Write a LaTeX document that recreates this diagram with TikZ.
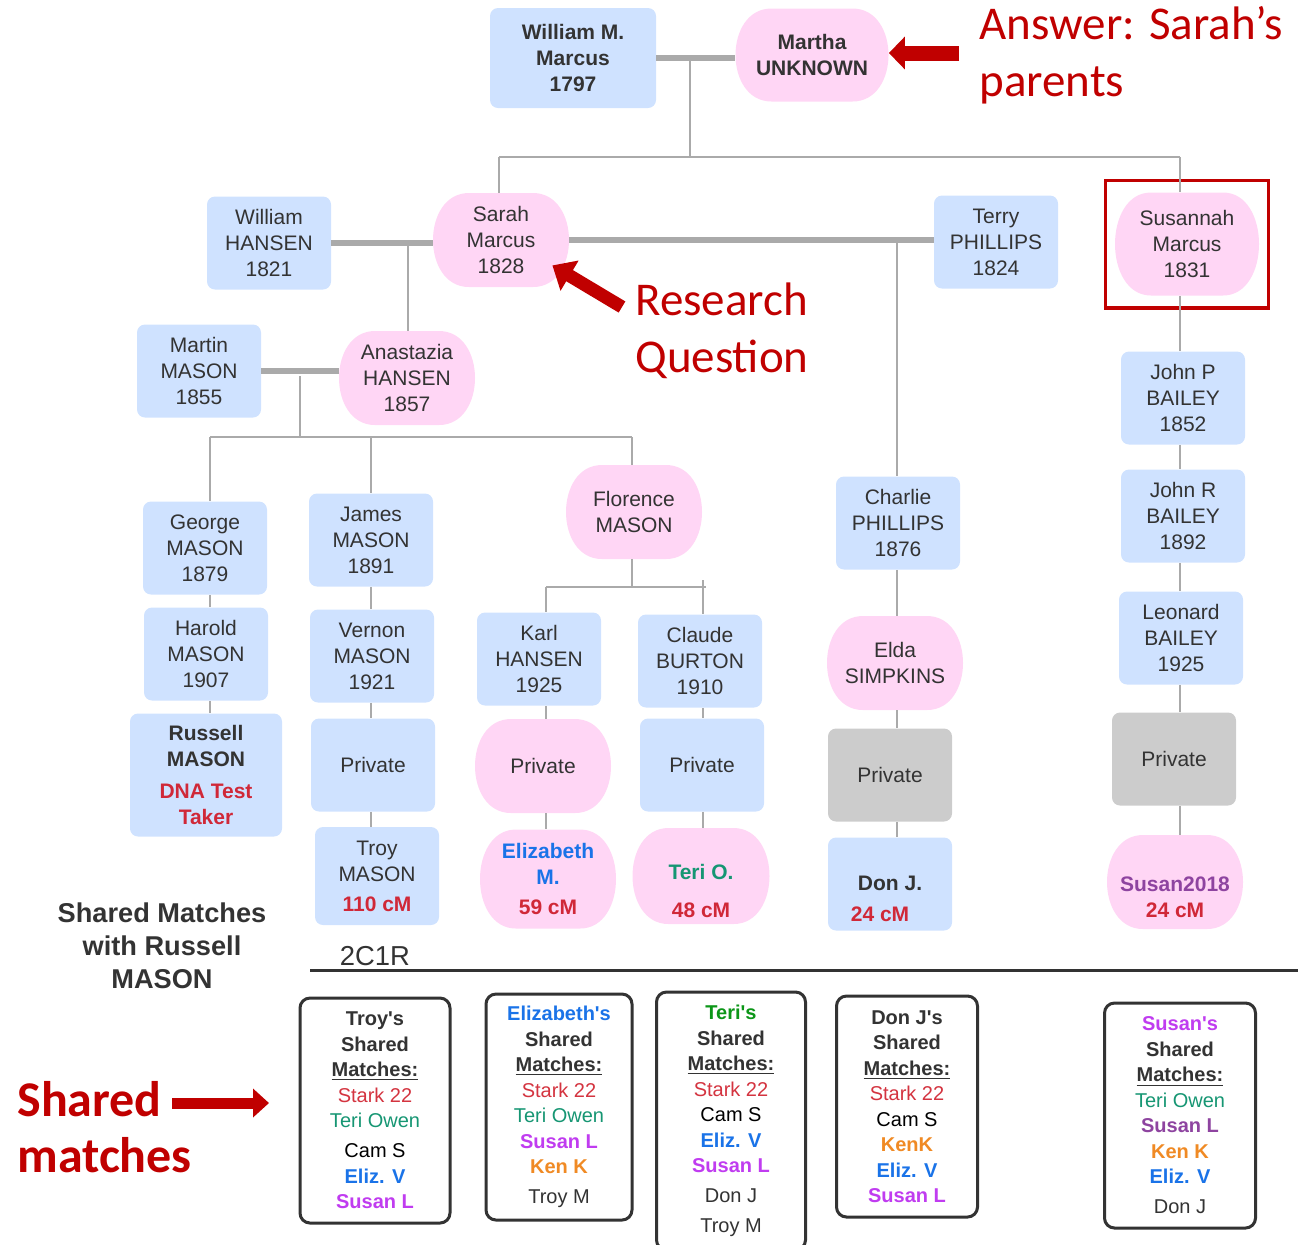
\documentclass[tikz,border=0pt]{standalone}
\usepackage{fontspec}
\setmainfont{Liberation Sans}
\newfontfamily\calibri{Carlito}
\usetikzlibrary{arrows.meta, fit}

\definecolor{boxblue}{RGB}{207,226,255}
\definecolor{boxpink}{RGB}{255,214,245}
\definecolor{boxgray}{RGB}{204,204,204}
\definecolor{linegray}{RGB}{170,170,170}
\definecolor{txt}{RGB}{51,51,51}
\definecolor{annred}{RGB}{192,0,0}
\definecolor{cmred}{RGB}{208,40,56}
\definecolor{starkred}{RGB}{212,52,64}
\definecolor{elizblue}{RGB}{26,115,232}
\definecolor{teriteal}{RGB}{22,150,115}
\definecolor{terigreen}{RGB}{12,150,24}
\definecolor{susanpurple}{RGB}{192,60,240}
\definecolor{susandark}{RGB}{142,68,160}
\definecolor{kenorange}{RGB}{240,138,36}

\newcommand\personfont{\fontsize{10.5}{13}\selectfont}
\newcommand\listfont{\fontsize{10}{12.75}\selectfont}

\tikzset{
  kin/.style={draw=linegray, line width=1.2pt},
  wed/.style={draw=linegray, line width=3pt},
  bluebox/.style={fill=boxblue, rounded corners=4pt, minimum width=62pt, minimum height=46.5pt,
    inner sep=0pt, align=center, text=txt, font=\personfont},
  graybox/.style={bluebox, fill=boxgray},
  pinkbox/.style={fill=white, minimum width=68pt, minimum height=47pt, inner sep=0pt,
    align=center, text=txt, font=\personfont,
    path picture={
      \fill[boxpink] ([xshift=18pt]path picture bounding box.north west)
        -- ([xshift=-18pt]path picture bounding box.north east)
        .. controls ([xshift=6pt]path picture bounding box.north east) and ([xshift=6pt]path picture bounding box.south east) .. ([xshift=-18pt]path picture bounding box.south east)
        -- ([xshift=18pt]path picture bounding box.south west)
        .. controls ([xshift=-6pt]path picture bounding box.south west) and ([xshift=-6pt]path picture bounding box.north west) .. cycle;
    }},
  matchbox/.style={draw=txt, line width=1.5pt, fill=white, rounded corners=5pt,
    inner sep=0pt, align=center, text=txt, font=\listfont},
  annot/.style={text=annred, inner sep=0pt, align=left, font={\calibri\fontsize{23.5}{28.5}\selectfont}},
  bigarrow/.style={draw=annred}
}

\begin{document}
\begin{tikzpicture}[x=0.5pt, y=-0.5pt]
\useasboundingbox (0,0) rectangle (1309,1244);

% Marcus parents
\node[bluebox, font={\personfont\bfseries}, minimum width=83pt, minimum height=50pt] (wmm) at (573,58) {William M.\\Marcus\\1797};
\node[pinkbox, font={\personfont\bfseries}, minimum width=76.5pt, minimum height=46.5pt] (martha) at (812,55) {Martha\\UNKNOWN};

% Sarah, her husband, her sister
\node[bluebox] (whansen) at (269,243) {William\\HANSEN\\1821};
\node[pinkbox] (sarah) at (501,240) {Sarah\\Marcus\\1828};
\node[bluebox] (terry) at (996,242) {Terry\\PHILLIPS\\1824};
\node[pinkbox, minimum width=72pt, minimum height=51.5pt] (susannah) at (1187,244) {Susannah\\Marcus\\1831};
\node[draw=annred, line width=1.6pt, fit=(susannah), inner xsep=4.5pt, inner ysep=6pt] (focus) {};

% next generation
\node[bluebox] (martin) at (199,371) {Martin\\MASON\\1855};
\node[pinkbox] (anastazia) at (407,378) {Anastazia\\HANSEN\\1857};
\node[bluebox] (charlie) at (898,523) {Charlie\\PHILLIPS\\1876};
\node[bluebox] (johnp) at (1183,398) {John P\\BAILEY\\1852};

\node[bluebox] (george) at (205,548) {George\\MASON\\1879};
\node[bluebox] (james) at (371,540) {James\\MASON\\1891};
\node[pinkbox] (florence) at (634,512) {Florence\\MASON};
\node[pinkbox] (elda) at (895,663) {Elda\\SIMPKINS};
\node[bluebox] (johnr) at (1183,516) {John R\\BAILEY\\1892};

\node[bluebox] (harold) at (206,654) {Harold\\MASON\\1907};
\node[bluebox] (vernon) at (372,656) {Vernon\\MASON\\1921};
\node[bluebox] (karl) at (539,659) {Karl\\HANSEN\\1925};
\node[bluebox] (claude) at (700,661) {Claude\\BURTON\\1910};
\node[bluebox] (leonard) at (1181,638) {Leonard\\BAILEY\\1925};

% living people
\node[bluebox, font={\personfont\bfseries}, minimum width=76pt, minimum height=61.5pt] (russell) at (206,775) {Russell\\MASON\\[3pt]\textcolor{cmred}{DNA Test}\\\textcolor{cmred}{Taker}};
\node[bluebox] (priva) at (373,765) {Private};
\node[pinkbox] (privb) at (543,766) {Private};
\node[bluebox] (privc) at (702,765) {Private};
\node[graybox] (privd) at (890,775) {Private};
\node[graybox] (privs) at (1174,759) {Private};

% DNA matches
\node[bluebox, minimum height=49pt] (troy) at (377,876) {Troy\\MASON\\[2pt]\textcolor{cmred}{\bfseries 110 cM}};
\node[pinkbox, font={\personfont\bfseries}, minimum height=49.5pt] (elizabeth) at (548,879) {\textcolor{elizblue}{Elizabeth}\\\textcolor{elizblue}{M.}\\[2pt]\textcolor{cmred}{59 cM}};
\node[pinkbox, font={\personfont\bfseries}, minimum width=68.5pt, minimum height=48pt] (teri) at (701,876) {\strut\\\textcolor{teriteal}{Teri O.}\\[6pt]\textcolor{cmred}{48 cM}};
\node[bluebox, font={\personfont\bfseries}] (don) at (890,884) {\strut\\Don J.\\[2.5pt]\textcolor{cmred}{24 cM}\rule{10pt}{0pt}};
\node[pinkbox, font={\personfont\bfseries}] (susan) at (1175,882) {\strut\\\textcolor{susandark}{Susan2018}\\\textcolor{cmred}{24 cM}};

% couples
\draw[wed] (wmm.east) -- (wmm.east -| martha.west);
\draw[wed] (whansen.east) -- (whansen.east -| sarah.west);
\draw[wed] (sarah.east) -- (sarah.east -| terry.west);
\draw[wed] (martin.east) -- (martin.east -| anastazia.west);

% children of William M. and Martha
\coordinate (m0) at (690,58);
\coordinate (bar0) at (690,157);
\coordinate (bar0l) at (499,157);
\coordinate (bar0r) at (1180,157);
\draw[kin] (m0) -- (bar0);
\draw[kin] (bar0l) -- (bar0r);
\draw[kin] (bar0l) -- (bar0l |- sarah.north);
\draw[kin] (bar0r) -- (bar0r |- susannah.north);

% children of Sarah
\coordinate (m1) at (408,242);
\draw[kin] (m1) -- (m1 |- anastazia.north);
\coordinate (m2) at (897,241);
\draw[kin] (m2) -- (m2 |- charlie.north);

% children of Anastazia
\coordinate (m3) at (300,376);
\coordinate (bar3) at (300,437);
\coordinate (bar3l) at (210,437);
\coordinate (bar3m) at (371,437);
\coordinate (bar3r) at (632,437);
\draw[kin] (m3) -- (bar3);
\draw[kin] (bar3l) -- (bar3r);
\draw[kin] (bar3l) -- (bar3l |- george.north);
\draw[kin] (bar3m) -- (bar3m |- james.north);
\draw[kin] (bar3r) -- (bar3r |- florence.north);

% children of Florence
\coordinate (bar4) at (632,587);
\coordinate (bar4l) at (546,587);
\coordinate (bar4r) at (706,587);
\coordinate (tick) at (703,580);
\draw[kin] (bar4 |- florence.south) -- (bar4);
\draw[kin] (bar4l) -- (bar4r);
\draw[kin] (bar4l) -- (bar4l |- karl.north);
\draw[kin] (tick) -- (tick |- claude.north);

% descent lines
\draw[kin] (george.south -| bar3l) -- (harold.north -| bar3l);
\draw[kin] (harold.south -| bar3l) -- (russell.north -| bar3l);
\draw[kin] (james.south -| bar3m) -- (vernon.north -| bar3m);
\draw[kin] (vernon.south -| bar3m) -- (priva.north -| bar3m);
\draw[kin] (priva.south -| bar3m) -- (troy.north -| bar3m);
\draw[kin] (karl.south -| bar4l) -- (privb.north -| bar4l);
\draw[kin] (privb.south -| bar4l) -- (elizabeth.north -| bar4l);
\draw[kin] (claude.south -| tick) -- (privc.north -| tick);
\draw[kin] (privc.south -| tick) -- (teri.north -| tick);
\draw[kin] (charlie.south -| m2) -- (elda.north -| m2);
\draw[kin] (elda.south -| m2) -- (privd.north -| m2);
\draw[kin] (privd.south -| m2) -- (don.north -| m2);
\draw[kin] (susannah.south -| bar0r) -- (johnp.north -| bar0r);
\draw[kin] (johnp.south -| bar0r) -- (johnr.north -| bar0r);
\draw[kin] (johnr.south -| bar0r) -- (leonard.north -| bar0r);
\draw[kin] (leonard.south -| bar0r) -- (privs.north -| bar0r);
\draw[kin] (privs.south -| bar0r) -- (susan.north -| bar0r);

% notes
\node[annot, anchor=north west] (answer) at (979,6) {Answer: Sarah’s\\parents};
\coordinate (anstail) at (959,53);
\draw[bigarrow, line width=7.5pt, -{Triangle[length=8pt, width=16pt]}] (anstail) -- (anstail -| martha.east);

\node[annot, anchor=north west] (question) at (635,282) {Research\\Question};
\coordinate (rqtail) at (622,307);
\coordinate (rqtip) at ([shift={(-17,-22)}]sarah.south east);
\draw[bigarrow, line width=6.5pt, -{Triangle[length=10pt, width=17pt]}] (rqtail) -- (rqtip);

\node[annot, font={\calibri\bfseries\fontsize{25}{28}\selectfont}, anchor=north west] (shared) at (17,1081) {Shared\\matches};
\coordinate (smtail) at (172,1103);
\coordinate (smtip) at (269,1103);
\draw[bigarrow, line width=5.5pt, -{Triangle[length=8pt, width=14pt]}] (smtail) -- (smtip);

% shared matches
\node[font={\fontsize{13.6}{16.5}\selectfont\bfseries}, text=txt, align=center, inner sep=0pt] (title) at (162,946) {Shared Matches\\with Russell\\MASON};
\node[font={\fontsize{13.7}{16}\selectfont}, text=txt, inner sep=0pt] (rel) at (375,956) {2C1R};
\coordinate (divl) at (310,970);
\coordinate (divr) at (1298,970);
\draw[draw=txt, line width=1.5pt] (divl) -- (divr);

\node[matchbox, minimum width=75pt, minimum height=112.5pt] (mtroy) at (375,1110.5)
  {\textbf{Troy\textquotesingle s}\\\textbf{Shared}\\\textbf{\underline{Matches:}}\\
   \textcolor{starkred}{Stark 22}\\\textcolor{teriteal}{Teri Owen}\\[2.25pt]
   \textcolor{black}{Cam S}\\\textcolor{elizblue}{\textbf{Eliz. V}}\\\textcolor{susanpurple}{\textbf{Susan L}}};
\node[matchbox, minimum width=73pt, minimum height=113pt] (meliz) at (559,1107)
  {\textcolor{elizblue}{\textbf{Elizabeth\textquotesingle s}}\\\textbf{Shared}\\\textbf{\underline{Matches:}}\\
   \textcolor{starkred}{Stark 22}\\\textcolor{teriteal}{Teri Owen}\\\textcolor{susanpurple}{\textbf{Susan L}}\\
   \textcolor{kenorange}{\textbf{Ken K}}\\[2.25pt]Troy M};
\node[matchbox, minimum width=74.5pt, minimum height=129pt] (mteri) at (731,1121)
  {\textcolor{terigreen}{\textbf{Teri\textquotesingle s}}\\\textbf{Shared}\\\textbf{\underline{Matches:}}\\
   \textcolor{starkred}{Stark 22}\\\textcolor{black}{Cam S}\\\textcolor{elizblue}{\textbf{Eliz. V}}\\
   \textcolor{susanpurple}{\textbf{Susan L}}\\[2.25pt]Don J\\[2.25pt]Troy M};
\node[matchbox, minimum width=70.5pt, minimum height=110.5pt] (mdon) at (907,1106.5)
  {\textbf{Don J\textquotesingle s}\\\textbf{Shared}\\\textbf{\underline{Matches:}}\\
   \textcolor{starkred}{Stark 22}\\\textcolor{black}{Cam S}\\\textcolor{kenorange}{\textbf{KenK}}\\
   \textcolor{elizblue}{\textbf{Eliz. V}}\\\textcolor{susanpurple}{\textbf{Susan L}}};
\node[matchbox, minimum width=75.5pt, minimum height=112.5pt] (msusan) at (1180,1115.5)
  {\textcolor{susanpurple}{\textbf{Susan\textquotesingle s}}\\\textbf{Shared}\\\textbf{\underline{Matches:}}\\
   \textcolor{teriteal}{Teri Owen}\\\textcolor{susandark}{\textbf{Susan L}}\\\textcolor{kenorange}{\textbf{Ken K}}\\
   \textcolor{elizblue}{\textbf{Eliz. V}}\\[2.25pt]Don J};
\end{tikzpicture}
\end{document}
